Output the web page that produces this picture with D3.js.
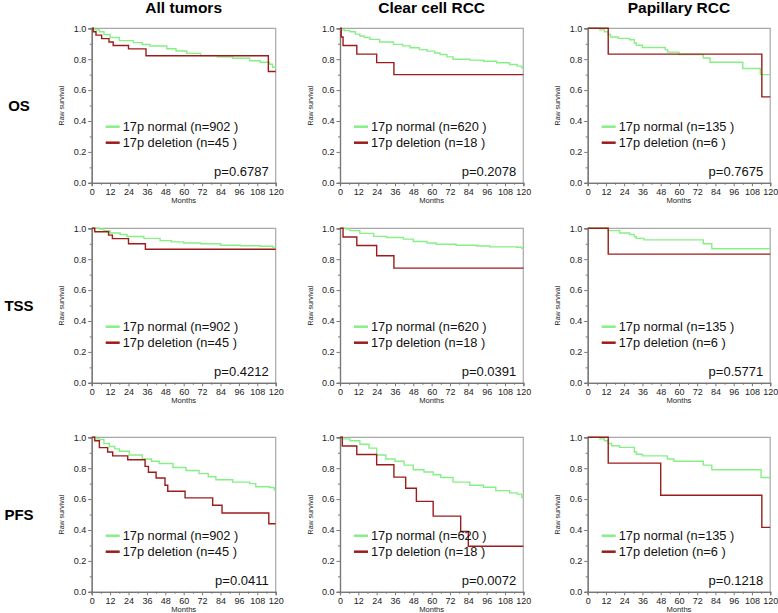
<!DOCTYPE html>
<html><head><meta charset="utf-8">
<script src="https://cdn.jsdelivr.net/npm/d3@7"></script>
<style>body{margin:0;background:#fff}svg{display:block;font-family:"Liberation Sans",Arial,sans-serif}</style>
</head><body><svg id="chart" width="778" height="613"></svg>
<script>
// ---------- data ----------
const columns = ["All tumors", "Clear cell RCC", "Papillary RCC"];
const rows = ["OS", "TSS", "PFS"];
const xTicks = [0, 12, 24, 36, 48, 60, 72, 84, 96, 108, 120];
const xMinorTicks = [6, 18, 30, 42, 54, 66, 78, 90, 102, 114];
const yTicks = [0, 0.2, 0.4, 0.6, 0.8, 1.0];
const yMinorTicks = [0.1, 0.3, 0.5, 0.7, 0.9];
const nNormal = [902, 620, 135];
const nDeletion = [45, 18, 6];
const pValues = [
  ["0.6787", "0.2078", "0.7675"],
  ["0.4212", "0.0391", "0.5771"],
  ["0.0411", "0.0072", "0.1218"]
];
// [month, survival] step points
const osAllNormal = [[0,1],[2,0.99],[5,0.978],[8,0.96],[12,0.94],[18,0.92],[27,0.907],[33,0.895],[38,0.885],[49,0.868],[55,0.853],[62,0.838],[71,0.823],[82,0.815],[92,0.806],[103,0.79],[110,0.78],[116,0.767],[118,0.748]];
const osAllDeletion = [[0,1],[1,0.978],[2.8,0.956],[6.5,0.933],[11.3,0.911],[14,0.889],[24,0.867],[35.4,0.822],[115.2,0.72]];
const osClearNormal = [[0,1],[0.5,0.99],[3,0.985],[6.5,0.978],[10,0.962],[13,0.95],[16,0.94],[19.6,0.928],[26,0.911],[35,0.896],[41,0.886],[46,0.874],[52,0.862],[57,0.852],[62,0.84],[65.5,0.83],[70,0.815],[74,0.80],[85,0.794],[94,0.787],[102.5,0.777],[111,0.766],[116,0.755],[119,0.744]];
const osClearDeletion = [[0,1],[0.8,0.944],[2,0.889],[11,0.833],[24,0.778],[35.3,0.70]];
const osPapNormal = [[0,1],[8,0.99],[11,0.978],[13.4,0.96],[15,0.944],[20,0.935],[27.5,0.926],[30.7,0.905],[32,0.89],[36,0.876],[51,0.862],[52.5,0.846],[60,0.83],[76,0.808],[80.4,0.78],[102,0.74],[113.5,0.70]];
const osPapDeletion = [[0,1],[13.5,0.833],[114.5,0.556]];
const tssAllNormal = [[0,1],[5,0.995],[8,0.985],[12,0.97],[18.5,0.96],[23,0.947],[34,0.935],[44.6,0.92],[52,0.912],[60,0.905],[71,0.90],[84,0.89],[97,0.887],[110,0.884],[118,0.878]];
const tssAllDeletion = [[0,1],[2,0.978],[11,0.956],[13.5,0.933],[24,0.90],[35,0.864]];
const tssClearNormal = [[0,1],[4,0.995],[6.5,0.985],[13,0.967],[22,0.948],[30.5,0.94],[41.5,0.93],[48,0.915],[57,0.905],[63,0.897],[76,0.89],[89.5,0.885],[98,0.88],[115.6,0.877],[119,0.87]];
const tssClearDeletion = [[0,1],[2,0.944],[11,0.889],[24,0.822],[35.3,0.742]];
const tssPapNormal = [[0,1],[13.4,0.985],[21,0.97],[27.5,0.96],[30.7,0.945],[32,0.935],[37,0.925],[76,0.90],[81.6,0.868]];
const tssPapDeletion = [[0,1],[13.5,0.833]];
const pfsAllNormal = [[0,1],[3,0.99],[5,0.985],[8,0.96],[11.5,0.94],[15,0.925],[18,0.91],[24.5,0.885],[33,0.86],[39,0.845],[44,0.83],[53,0.805],[61.5,0.785],[70,0.765],[76,0.745],[81,0.725],[92,0.71],[103,0.70],[107,0.68],[116,0.675],[119,0.66]];
const pfsAllDeletion = [[0,1],[2,0.978],[5,0.933],[10.4,0.905],[13.7,0.88],[23.5,0.855],[34.8,0.812],[37,0.774],[42,0.737],[47.8,0.69],[49.6,0.651],[60.9,0.608],[78.9,0.56],[85,0.51],[115.5,0.44]];
const pfsClearNormal = [[0,1],[1,0.99],[6.5,0.978],[13,0.955],[19,0.93],[24,0.885],[30,0.86],[36,0.845],[42,0.82],[48,0.79],[55,0.775],[61,0.758],[66,0.74],[74,0.71],[85,0.69],[94,0.677],[102,0.655],[111,0.64],[116,0.632],[119,0.612]];
const pfsClearDeletion = [[0,1],[1.5,0.944],[11,0.889],[24,0.822],[35.3,0.742],[43,0.67],[50,0.585],[61,0.49],[79,0.39],[84,0.295]];
const pfsPapNormal = [[0,1],[8,0.99],[11,0.978],[13.4,0.96],[15.6,0.945],[21,0.935],[30.7,0.905],[32,0.89],[36,0.88],[52.4,0.86],[56.7,0.845],[76,0.82],[81.6,0.79],[114,0.74]];
const pfsPapDeletion = [[0,1],[13.5,0.833],[48,0.625],[114.5,0.417]];

const normalSeries = [
  [osAllNormal, osClearNormal, osPapNormal],
  [tssAllNormal, tssClearNormal, tssPapNormal],
  [pfsAllNormal, pfsClearNormal, pfsPapNormal]
];
const deletionSeries = [
  [osAllDeletion, osClearDeletion, osPapDeletion],
  [tssAllDeletion, tssClearDeletion, tssPapDeletion],
  [pfsAllDeletion, pfsClearDeletion, pfsPapDeletion]
];

// ---------- layout ----------
const colLeft = [91.7, 340, 587.7];
const colWidth = [184, 183.3, 182.5];
const rowTop = [28.3, 228.3, 437.3];
const H = 154.5;
const green = "#86f086", red = "#9c1c1c";

const svg = d3.select("#chart");
const y = d3.scaleLinear().domain([0, 1]).range([H, 0]);
const extend = s => s.concat([[120, s[s.length - 1][1]]]);

columns.forEach((c, ci) => {
  svg.append("text").attr("x", colLeft[ci] + colWidth[ci] / 2).attr("y", 13)
    .attr("text-anchor", "middle").attr("font-weight", "bold").attr("font-size", "15.5px").text(c);
});
rows.forEach((r, ri) => {
  svg.append("text").attr("x", 19).attr("y", rowTop[ri] + H / 2 + 5)
    .attr("text-anchor", "middle").attr("font-weight", "bold").attr("font-size", "15px").text(r);
});

rows.forEach((r, ri) => {
  columns.forEach((c, ci) => {
    const W = colWidth[ci];
    const x = d3.scaleLinear().domain([0, 120]).range([0, W]);
    const line = d3.line().x(d => x(d[0])).y(d => y(d[1])).curve(d3.curveStepAfter);
    const g = svg.append("g").attr("transform", `translate(${colLeft[ci]},${rowTop[ri]})`);
    // border top/right
    g.append("path").attr("d", `M0,0H${W}V${H}`).attr("fill", "none").attr("stroke", "#a8a8a8").attr("stroke-width", 1.2);
    // axes
    const ya = g.append("g").call(d3.axisLeft(y).tickValues(yTicks).tickSize(3.5).tickPadding(2).tickFormat(d3.format(".1f")));
    const yb = g.append("g").call(d3.axisLeft(y).tickValues(yMinorTicks).tickSize(2).tickFormat(""));
    const xa = g.append("g").attr("transform", `translate(0,${H})`).call(d3.axisBottom(x).tickValues(xTicks).tickSize(3.5).tickPadding(2.8));
    const xb = g.append("g").attr("transform", `translate(0,${H})`).call(d3.axisBottom(x).tickValues(xMinorTicks).tickSize(2).tickFormat(""));
    [ya, yb, xa, xb].forEach(a => {
      a.select(".domain").attr("stroke", "#777").attr("stroke-width", 1.2);
      a.selectAll(".tick line").attr("stroke", "#777");
      a.selectAll("text").attr("font-size", "9px").attr("fill", "#222").attr("font-family", "Liberation Sans, Arial, sans-serif");
    });
    g.append("text").attr("x", W / 2).attr("y", H + 20.3).attr("text-anchor", "middle")
      .attr("font-size", "7.6px").attr("fill", "#222").text("Months");
    g.append("text").attr("transform", `translate(-30,${H / 2}) rotate(-90)`).attr("text-anchor", "middle")
      .attr("dominant-baseline", "central").attr("font-size", "7px").attr("fill", "#222").text("Raw survival");
    // curves
    g.append("path").datum(extend(normalSeries[ri][ci])).attr("d", line)
      .attr("fill", "none").attr("stroke", green).attr("stroke-width", 1.4);
    g.append("path").datum(extend(deletionSeries[ri][ci])).attr("d", line)
      .attr("fill", "none").attr("stroke", red).attr("stroke-width", 1.4);
    // legend
    const leg = [[green, `17p normal (n=${nNormal[ci]} )`], [red, `17p deletion (n=${nDeletion[ci]} )`]];
    leg.forEach((l, li) => {
      const ly = 98.4 + li * 16;
      g.append("line").attr("x1", 14).attr("x2", 28).attr("y1", ly).attr("y2", ly)
        .attr("stroke", l[0]).attr("stroke-width", 2.5);
      g.append("text").attr("x", 31).attr("y", ly).attr("dominant-baseline", "central")
        .attr("font-size", "12.8px").attr("fill", "#111").text(l[1]);
    });
    g.append("text").attr("x", W - 7).attr("y", H - 7).attr("text-anchor", "end")
      .attr("font-size", "13px").attr("fill", "#111").text("p=" + pValues[ri][ci]);
  });
});
</script></body></html>
